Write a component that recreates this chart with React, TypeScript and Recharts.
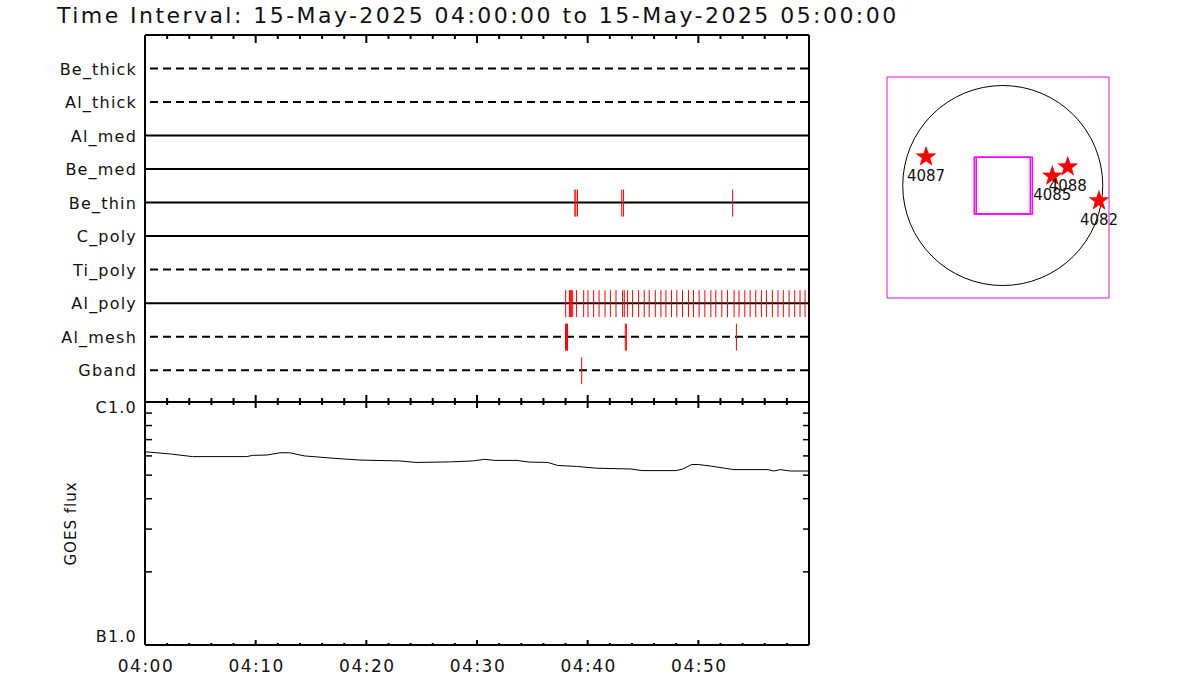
import React from "react";
import {
  ScatterChart,
  LineChart,
  Scatter,
  Line,
  XAxis,
  YAxis,
  ReferenceLine,
  ReferenceArea,
} from "recharts";

const FONT = "'DejaVu Sans', sans-serif";

// filter rows, top to bottom
const filterNames = ["Be_thick", "Al_thick", "Al_med", "Be_med", "Be_thin", "C_poly", "Ti_poly", "Al_poly", "Al_mesh", "Gband"];
const filterDashed = [true, true, false, false, false, false, true, false, true, true];

// exposure times in minutes after 04:00
const beThinTimes = [38.84, 38.93, 39.08, 43.08, 43.23, 53.1];
const alPolyTimes = [
  38.01, 38.35, 38.44, 38.53, 38.65, 39.0, 39.64, 40.03, 40.54, 41.03, 41.57, 42.05,
  42.56, 43.16, 43.31, 43.61, 44.06, 44.6, 45.11, 45.56, 46.11, 46.62, 47.07, 47.58,
  48.06, 48.57, 49.11, 49.56, 50.07, 50.59, 51.13, 51.58, 52.12, 52.63, 53.23, 53.68,
  54.2, 54.68, 55.19, 55.7, 56.15, 56.69, 57.2, 57.68, 58.2, 58.71, 59.19, 59.64,
];
const alMeshTimes = [38.0, 38.09, 38.18, 43.4, 43.5, 53.44];
const gbandTimes = [39.46];

const timeTicks = [0, 2, 4, 6, 8, 10, 12, 14, 16, 18, 20, 22, 24, 26, 28, 30, 32, 34, 36, 38, 40, 42, 44, 46, 48, 50, 52, 54, 56, 58, 60];
const timeLabels: Record<number, string> = { 0: "04:00", 10: "04:10", 20: "04:20", 30: "04:30", 40: "04:40", 50: "04:50" };

// GOES 1-8 A flux
const goesMinutes = [0, 2.3, 4.3, 9.2, 9.7, 11, 12.2, 13.1, 14.4, 17.0, 19.4, 23.0, 24.5, 27.6, 29.6, 30.7, 31.6, 33.6, 34.7, 36.4, 37.3, 39.0, 40.8, 43.9, 44.9, 48.0, 48.6, 49.4, 50.0, 51.1, 53.2, 56.3, 56.8, 57.4, 58.3, 60];
const goesFlux = [
  6.24e-7, 6.11e-7, 5.96e-7, 5.96e-7, 6.03e-7, 6.05e-7, 6.18e-7, 6.18e-7, 6.0e-7, 5.87e-7,
  5.77e-7, 5.72e-7, 5.64e-7, 5.67e-7, 5.72e-7, 5.81e-7, 5.75e-7, 5.75e-7, 5.66e-7, 5.64e-7,
  5.48e-7, 5.43e-7, 5.34e-7, 5.3e-7, 5.22e-7, 5.22e-7, 5.3e-7, 5.53e-7, 5.53e-7, 5.45e-7,
  5.27e-7, 5.27e-7, 5.2e-7, 5.27e-7, 5.2e-7, 5.2e-7,
];
const fluxTicks = [1e-7, 2e-7, 3e-7, 4e-7, 5e-7, 6e-7, 7e-7, 8e-7, 9e-7, 1e-6];
const fluxLabels: Record<string, string> = { "1e-7": "B1.0", "0.000001": "C1.0" };

// active regions on the disk (arcsec)
const arNumbers = ["4087", "4085", "4088", "4082"];
const arX = [-736, 476, 624, 924];
const arY = [276, 91, 180, -146];

// pointing boxes (arcsec)
const fovX1 = [-273, -254];
const fovX2 = [265, 284];
const fovY1 = [-274, -274];
const fovY2 = [271, 271];

const SUN_RADIUS = 960;
const MAP_X = [-1111, 1020];
const MAP_Y = [-1080, 1042];
const MAP_W = 222;

const ROW_MAX = 10.95;
const TOP = 35;
const MID = 402;
const BOTTOM = 645;
const LEFT = 145;
const RIGHT = 809;

const rowIndex = (n: string) => filterNames.indexOf(n) + 1;
const exposures = [
  ...beThinTimes.map((t) => ({ t, row: rowIndex("Be_thin") })),
  ...alPolyTimes.map((t) => ({ t, row: rowIndex("Al_poly") })),
  ...alMeshTimes.map((t) => ({ t, row: rowIndex("Al_mesh") })),
  ...gbandTimes.map((t) => ({ t, row: rowIndex("Gband") })),
];
const goesData = goesMinutes.map((t, i) => ({ t, flux: goesFlux[i] }));
const arData = arNumbers.map((name, i) => ({ x: arX[i], y: arY[i], name }));

const TopTick = (p: any) => {
  const v = p.payload.value;
  if (v === 0 || v === 60) return <g />;
  const major = v % 10 === 0;
  return (
    <g>
      <line x1={p.x} x2={p.x} y1={TOP} y2={TOP + (major ? 8 : 4)} stroke="#000" strokeWidth={2} />
      <line x1={p.x} x2={p.x} y1={MID} y2={MID - (major ? 7 : 4)} stroke="#000" strokeWidth={2} />
    </g>
  );
};

const RowLabel = (p: any) => (
  <text x={137} y={p.y + 6} textAnchor="end" fontFamily={FONT} fontSize={16} letterSpacing={1.2} fill="#111">
    {filterNames[p.payload.value - 1]}
  </text>
);

const ExposureMark = (p: any) => (
  <line x1={p.cx} x2={p.cx} y1={p.cy - 13} y2={p.cy + 14} stroke="#ff0000" strokeWidth={1} />
);

const GoesTimeTick = (p: any) => {
  const v = p.payload.value;
  const major = v % 10 === 0;
  return (
    <g>
      {v !== 0 && v !== 60 && (
        <>
          <line x1={p.x} x2={p.x} y1={MID} y2={MID + (major ? 6 : 3)} stroke="#000" strokeWidth={2} />
          <line x1={p.x} x2={p.x} y1={BOTTOM} y2={BOTTOM - (major ? 5 : 2)} stroke="#000" strokeWidth={2} />
        </>
      )}
      {timeLabels[v] && (
        <text x={p.x + 1} y={672} textAnchor="middle" fontFamily={FONT} fontSize={17} letterSpacing={1.5} fill="#111">
          {timeLabels[v]}
        </text>
      )}
    </g>
  );
};

const FluxTick = (p: any) => {
  const v = p.payload.value;
  const label = fluxLabels[String(v)];
  if (label) {
    const top = v > 5e-7;
    return (
      <text x={137} y={top ? p.y + 11 : p.y - 3} textAnchor="end" fontFamily={FONT} fontSize={16} letterSpacing={1.2} fill="#111">
        {label}
      </text>
    );
  }
  return (
    <g>
      <line x1={LEFT} x2={LEFT + 7} y1={p.y} y2={p.y} stroke="#000" strokeWidth={1.5} />
      <line x1={RIGHT - 6} x2={RIGHT} y1={p.y} y2={p.y} stroke="#000" strokeWidth={1.5} />
    </g>
  );
};

const pxPerArcsec = MAP_W / (MAP_X[1] - MAP_X[0]);
const SunDisk = (p: any) => (
  <circle cx={p.cx} cy={p.cy} r={SUN_RADIUS * pxPerArcsec} fill="none" stroke="#000" strokeWidth={1} />
);

const StarMark = (p: any) => {
  const pts: string[] = [];
  for (let k = 0; k < 10; k++) {
    const r = k % 2 === 0 ? 11 : 4.4;
    const a = -Math.PI / 2 + (k * Math.PI) / 5;
    pts.push(`${p.cx + r * Math.cos(a)},${p.cy + r * Math.sin(a)}`);
  }
  return (
    <g>
      <polygon points={pts.join(" ")} fill="#ff0000" />
      <text x={p.cx} y={p.cy + 24} textAnchor="middle" fontFamily={FONT} fontSize={15} fill="#111">
        {p.payload.name}
      </text>
    </g>
  );
};

const layer: React.CSSProperties = { position: "absolute", left: 0, top: 0 };

export default function App() {
  return (
    <div style={{ position: "absolute", left: 0, top: 0, width: 1200, height: 700, background: "#fff", overflow: "hidden" }}>
      <div
        style={{
          position: "absolute",
          left: 57,
          top: 3,
          fontFamily: FONT,
          fontSize: 22,
          letterSpacing: "2.45px",
          color: "#111",
          whiteSpace: "nowrap",
        }}
      >
        Time Interval: 15-May-2025 04:00:00 to 15-May-2025 05:00:00
      </div>

      {/* filter exposure timeline */}
      <div style={layer}>
        <ScatterChart width={1200} height={700} margin={{ top: TOP, right: 1200 - RIGHT, bottom: 700 - MID - 2, left: 0 }}>
          <XAxis dataKey="t" type="number" domain={[0, 60]} ticks={timeTicks} interval={0} height={2} axisLine={false} tickLine={false} tick={TopTick} allowDataOverflow />
          <YAxis dataKey="row" type="number" domain={[0, ROW_MAX]} reversed ticks={[1, 2, 3, 4, 5, 6, 7, 8, 9, 10]} interval={0} width={LEFT} axisLine={false} tickLine={false} tick={RowLabel} allowDataOverflow />
          {filterNames.map((n, i) => (
            <ReferenceLine
              key={n}
              y={i + 1}
              stroke="#000"
              strokeWidth={2}
              strokeDasharray={filterDashed[i] ? "8 5" : undefined}
              strokeDashoffset={filterDashed[i] ? 8 : undefined}
            />
          ))}
          <ReferenceLine y={0} stroke="#000" strokeWidth={2} />
          <ReferenceLine x={0} stroke="#000" strokeWidth={2} />
          <ReferenceLine x={60} stroke="#000" strokeWidth={2} />
          <Scatter data={exposures} dataKey="row" shape={ExposureMark} isAnimationActive={false} />
        </ScatterChart>
      </div>

      {/* GOES light curve */}
      <div style={layer}>
        <LineChart width={1200} height={700} data={goesData} margin={{ top: MID, right: 1200 - RIGHT, bottom: 700 - BOTTOM - 2, left: 0 }}>
          <XAxis dataKey="t" type="number" domain={[0, 60]} ticks={timeTicks} interval={0} height={2} axisLine={false} tickLine={false} tick={GoesTimeTick} allowDataOverflow />
          <YAxis
            type="number"
            scale="log"
            domain={[1e-7, 1e-6]}
            ticks={fluxTicks}
            interval={0}
            width={LEFT}
            axisLine={false}
            tickLine={false}
            tick={FluxTick}
            allowDataOverflow
            label={{ value: "GOES flux", angle: -90, position: "center", dx: -2, style: { fontFamily: FONT, fontSize: 15, letterSpacing: 1, fill: "#111" } }}
          />
          <ReferenceLine y={1e-6} stroke="#000" strokeWidth={2} />
          <ReferenceLine y={1e-7} stroke="#000" strokeWidth={2} />
          <ReferenceLine x={0} stroke="#000" strokeWidth={2} />
          <ReferenceLine x={60} stroke="#000" strokeWidth={2} />
          <Line type="linear" dataKey="flux" stroke="#000" strokeWidth={1} dot={false} isAnimationActive={false} />
        </LineChart>
      </div>

      {/* solar disk map */}
      <div style={layer}>
        <ScatterChart width={1200} height={700} margin={{ top: 77, right: 1200 - 887 - MAP_W, bottom: 700 - 298, left: 887 }}>
          <XAxis dataKey="x" type="number" domain={MAP_X} hide />
          <YAxis dataKey="y" type="number" domain={MAP_Y} hide />
          <ReferenceArea x1={MAP_X[0]} x2={MAP_X[1]} y1={MAP_Y[0]} y2={MAP_Y[1]} fill="none" fillOpacity={0} stroke="#e010e0" strokeWidth={1} />
          <Scatter data={[{ x: 0, y: 0 }]} shape={SunDisk} isAnimationActive={false} />
          {fovX1.map((x1, i) => (
            <ReferenceArea key={i} x1={x1} x2={fovX2[i]} y1={fovY1[i]} y2={fovY2[i]} fill="none" fillOpacity={0} stroke="#ff00ff" strokeWidth={1.5} />
          ))}
          <Scatter data={arData} shape={StarMark} isAnimationActive={false} />
        </ScatterChart>
      </div>
    </div>
  );
}
